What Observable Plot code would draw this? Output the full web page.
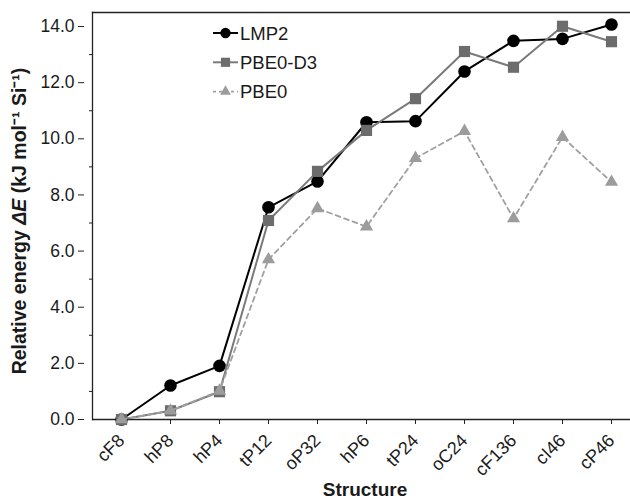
<!DOCTYPE html>
<html><head><meta charset="utf-8">
<script src="https://cdn.jsdelivr.net/npm/d3@7"></script>
<script src="https://cdn.jsdelivr.net/npm/@observablehq/plot@0.6"></script>
<style>
body{margin:0;background:#fff;}
#wrap{position:relative;width:630px;height:502px;overflow:hidden}
</style>
</head><body><div id="wrap"></div>
<script>
const structures = ["cF8","hP8","hP4","tP12","oP32","hP6","tP24","oC24","cF136","cI46","cP46"];
const lmp2   = [0, 1.21, 1.91, 7.56, 8.48, 10.59, 10.63, 12.40, 13.49, 13.56, 14.07];
const pbe0d3 = [0, 0.31, 0.99, 7.09, 8.84, 10.30, 11.43, 13.11, 12.55, 14.01, 13.46];
const pbe0   = [0, 0.31, 1.02, 5.70, 7.52, 6.87, 9.31, 10.27, 7.16, 10.06, 8.46];
const yTicks = [0, 2, 4, 6, 8, 10, 12, 14];
const yMinor = [1, 3, 5, 7, 9, 11, 13];
const seriesNames = ["LMP2", "PBE0-D3", "PBE0"];

const FONT = '"Liberation Sans", Arial, sans-serif';
const TXT = "#1a1a1a";
const styles = {
  "LMP2":    {stroke: "#000000", fill: "#000000", width: 2, dash: null, symbol: "circle", r: 6.3},
  "PBE0-D3": {stroke: "#7a7a7a", fill: "#6c6c6c", width: 2, dash: null, symbol: "square", r: 6.3},
  "PBE0":    {stroke: "#a0a0a0", fill: "#9c9c9c", width: 1.8, dash: "5,4", symbol: "triangle", r: 4.9}
};
const seriesValues = {"LMP2": lmp2, "PBE0-D3": pbe0d3, "PBE0": pbe0};
const rows = seriesNames.map(name => structures.map((s, i) => ({s, v: seriesValues[name][i], name})));

const marks = [
  Plot.axisY({ticks: yMinor, tickSize: 3, tickFormat: () => "", label: null, stroke: "#222"}),
  Plot.axisY({ticks: yTicks, tickSize: 6, tickPadding: 4, dx: -8, tickFormat: d3.format(".1f"), label: null, fontSize: 17.5, color: TXT, stroke: "#222"}),
  Plot.axisX({tickRotate: -45, tickSize: 5, tickPadding: 13, label: null, fontSize: 18, color: TXT, stroke: "#222"}),
  Plot.frame({anchor: "top", stroke: "#222", strokeWidth: 1.3}),
  Plot.frame({anchor: "left", stroke: "#222", strokeWidth: 1.3}),
  Plot.ruleY([0], {stroke: "#222", strokeWidth: 1.3})
];
rows.forEach((data, k) => {
  const st = styles[seriesNames[k]];
  marks.push(Plot.line(data, {x: "s", y: "v", stroke: st.stroke, strokeWidth: st.width, strokeDasharray: st.dash}));
  marks.push(Plot.dot(data, {x: "s", y: "v", symbol: st.symbol, r: st.r, fill: st.fill, stroke: "none"}));
});

const chart = Plot.plot({
  width: 630, height: 502,
  marginLeft: 92, marginRight: 0, marginTop: 12, marginBottom: 83,
  style: {fontFamily: FONT, background: "#fff", overflow: "visible"},
  x: {type: "point", domain: structures, range: [92, 639], padding: 0.5},
  y: {domain: [0, 14.5]},
  marks
});
document.getElementById("wrap").appendChild(chart);

const svg = d3.select(chart);
// axis titles
const yl = svg.append("text")
  .attr("transform", "translate(26,221) rotate(-90)")
  .attr("text-anchor", "middle")
  .attr("font-family", FONT).attr("font-size", 19.5).attr("font-weight", "bold").attr("fill", TXT);
yl.append("tspan").text("Relative energy ");
yl.append("tspan").attr("font-style", "italic").text("ΔE");
yl.append("tspan").text(" (kJ mol⁻¹ Si⁻¹)");
svg.append("text").attr("x", 365).attr("y", 496).attr("text-anchor", "middle")
  .attr("font-family", FONT).attr("font-size", 19).attr("font-weight", "bold").attr("fill", TXT)
  .text("Structure");

// legend
const sym = {circle: d3.symbolCircle, square: d3.symbolSquare, triangle: d3.symbolTriangle};
const lg = svg.append("g");
seriesNames.forEach((name, i) => {
  const st = styles[name];
  const y = 33 + i * 29.3;
  const g = lg.append("g").attr("transform", `translate(0,${y})`);
  g.append("line").attr("x1", 213).attr("x2", 238).attr("y1", 0).attr("y2", 0)
    .attr("stroke", st.stroke).attr("stroke-width", st.width).attr("stroke-dasharray", st.dash ? "3,3" : null);
  const size = Math.PI * (st.r * 0.82) ** 2;
  g.append("path").attr("transform", "translate(225.5,0)")
    .attr("d", d3.symbol(sym[st.symbol], size)()).attr("fill", st.fill);
  g.append("text").attr("x", 240).attr("y", 0).attr("dy", "0.36em").attr("text-anchor", "start")
    .attr("font-family", FONT).attr("font-size", 18.5).attr("fill", TXT).text(name);
});
</script>
</body></html>
